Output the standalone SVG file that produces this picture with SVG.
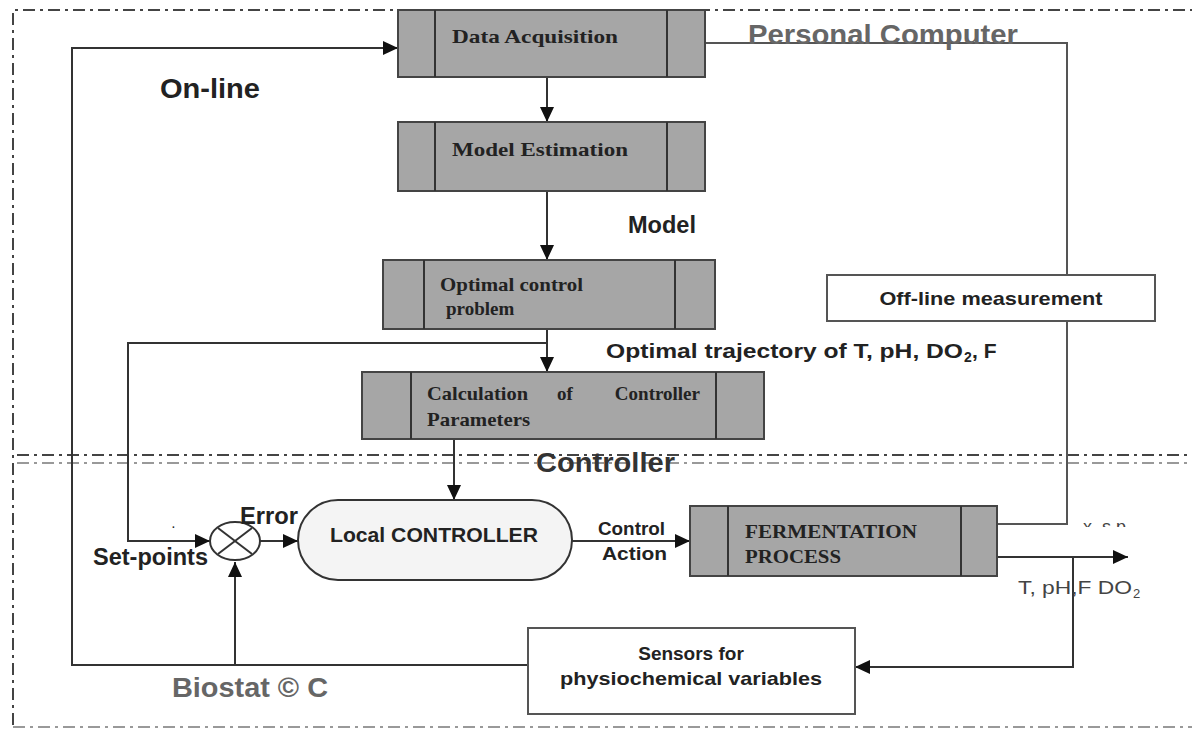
<svg xmlns="http://www.w3.org/2000/svg" width="1192" height="729" viewBox="0 0 1192 729">
<style>
.bd{fill:none;stroke:#444;stroke-width:2;stroke-dasharray:12 5 3 5}
.bd2{fill:none;stroke:#999;stroke-width:2;stroke-dasharray:12 5 3 5}
.c{fill:none;stroke:#333;stroke-width:2}
.g{fill:#a6a6a6;stroke:#444;stroke-width:2}
.w{fill:#fff;stroke:#555;stroke-width:2}
.st{font-family:'Liberation Serif',serif;font-weight:bold;font-size:19px;fill:#222}
.sn{font-family:'Liberation Sans',Arial,sans-serif;font-weight:bold;fill:#222}
.sr{font-family:'Liberation Sans',Arial,sans-serif;fill:#444}
</style>
<defs>
<marker id="ah" markerUnits="userSpaceOnUse" markerWidth="16" markerHeight="16" refX="15" refY="7" orient="auto">
<path d="M0,0 L15,7 L0,14 z" fill="#111"/>
</marker>
<clipPath id="xsp"><rect x="1070" y="505" width="80" height="22"/></clipPath>
</defs>
<rect width="1192" height="729" fill="#fff"/>
<g id="boundaries">
<path class="bd" d="M13,725 V10 H1192"/>
<path class="bd" d="M17,455 H1192"/>
<path class="bd2" d="M17,463 H1192"/>
<path class="bd2" d="M13,727 H1192"/>
</g>
<g id="connectors">
<path class="c" d="M528,665 H72 V48 H398" marker-end="url(#ah)"/>
<path class="c" d="M547,77 V122" marker-end="url(#ah)"/>
<path class="c" d="M547,191 V260" marker-end="url(#ah)"/>
<path class="c" d="M547,329 V372" marker-end="url(#ah)"/>
<path class="c" d="M547,343 H128 V541 H210" marker-end="url(#ah)"/>
<path class="c" d="M260,541 H298" marker-end="url(#ah)"/>
<path class="c" d="M454,439 V500" marker-end="url(#ah)"/>
<path class="c" d="M572,541 H690" marker-end="url(#ah)"/>
<path class="c" style="stroke:#555" d="M997,524 H1067 V43 H705"/>
<path class="c" d="M997,557 H1128" marker-end="url(#ah)"/>
<path class="c" d="M1073,557 V667 H855" marker-end="url(#ah)"/>
<path class="c" d="M235,665 V562" marker-end="url(#ah)"/>
</g>
<g id="data-acquisition">
<rect class="g" x="398" y="10" width="307" height="67"/>
<line class="c" x1="435" y1="10" x2="435" y2="77"/>
<line class="c" x1="667" y1="10" x2="667" y2="77"/>
<text class="st" x="452" y="43" font-size="22" textLength="166" lengthAdjust="spacingAndGlyphs">Data Acquisition</text>
</g>
<g id="model-estimation">
<rect class="g" x="398" y="122" width="307" height="69"/>
<line class="c" x1="435" y1="122" x2="435" y2="191"/>
<line class="c" x1="667" y1="122" x2="667" y2="191"/>
<text class="st" x="452" y="156" font-size="22" textLength="176" lengthAdjust="spacingAndGlyphs">Model Estimation</text>
</g>
<g id="optimal-control">
<rect class="g" x="383" y="260" width="332" height="69"/>
<line class="c" x1="424" y1="260" x2="424" y2="329"/>
<line class="c" x1="675" y1="260" x2="675" y2="329"/>
<text class="st" x="440" y="291" font-size="19" textLength="143" lengthAdjust="spacingAndGlyphs">Optimal control</text>
<text class="st" x="446" y="315" font-size="19">problem</text>
</g>
<g id="calc-params">
<rect class="g" x="362" y="372" width="402" height="67"/>
<line class="c" x1="411" y1="372" x2="411" y2="439"/>
<line class="c" x1="716" y1="372" x2="716" y2="439"/>
<text class="st" x="427" y="400" font-size="20" textLength="101" lengthAdjust="spacingAndGlyphs">Calculation</text>
<text class="st" x="557" y="400" font-size="20">of</text>
<text class="st" x="700" y="400" font-size="20" text-anchor="end">Controller</text>
<text class="st" x="427" y="426" font-size="20" textLength="103" lengthAdjust="spacingAndGlyphs">Parameters</text>
</g>
<g id="local-controller">
<rect x="298" y="500" width="274" height="80" rx="40" ry="40" fill="#f4f4f4" stroke="#333" stroke-width="2"/>
<text class="sn" x="434" y="542" font-size="20" text-anchor="middle" textLength="208" lengthAdjust="spacingAndGlyphs">Local CONTROLLER</text>
</g>
<g id="summing-junction">
<ellipse cx="235" cy="541" rx="25" ry="19" fill="#fff" stroke="#333" stroke-width="2"/>
<line class="c" x1="218" y1="528" x2="252" y2="554"/>
<line class="c" x1="218" y1="554" x2="252" y2="528"/>
</g>
<g id="fermentation">
<rect class="g" x="690" y="506" width="307" height="70"/>
<line class="c" x1="728" y1="506" x2="728" y2="576"/>
<line class="c" x1="961" y1="506" x2="961" y2="576"/>
<text class="st" x="745" y="538" font-size="19" textLength="172" lengthAdjust="spacingAndGlyphs">FERMENTATION</text>
<text class="st" x="745" y="563" font-size="19" textLength="96" lengthAdjust="spacingAndGlyphs">PROCESS</text>
</g>
<g id="offline">
<rect class="w" x="827" y="275" width="328" height="46"/>
<text class="sn" x="991" y="305" font-size="19" text-anchor="middle" fill="#333" textLength="223" lengthAdjust="spacingAndGlyphs">Off-line measurement</text>
</g>
<g id="sensors">
<rect class="w" x="528" y="628" width="327" height="86"/>
<text class="sn" x="691" y="660" font-size="19" text-anchor="middle" fill="#333">Sensors for</text>
<text class="sn" x="691" y="685" font-size="19" text-anchor="middle" fill="#333" textLength="262" lengthAdjust="spacingAndGlyphs">physiochemical variables</text>
</g>
<g id="labels">
<text class="sn" x="160" y="98" font-size="28" textLength="100" lengthAdjust="spacingAndGlyphs">On-line</text>
<text class="sn" x="748" y="44" font-size="28" style="fill:#666" textLength="270" lengthAdjust="spacingAndGlyphs">Personal Computer</text>
<text class="sn" x="628" y="233" font-size="23" textLength="68" lengthAdjust="spacingAndGlyphs">Model</text>
<text class="sn" x="606" y="358" font-size="21" textLength="357" lengthAdjust="spacingAndGlyphs">Optimal trajectory of T, pH, DO</text>
<text class="sn" x="964" y="362" font-size="14">2</text>
<text class="sn" x="972" y="358" font-size="21">, F</text>
<text class="sn" x="536" y="472" font-size="28" style="fill:#333" textLength="139" lengthAdjust="spacingAndGlyphs">Controller</text>
<text class="sn" x="240" y="524" font-size="23" textLength="58" lengthAdjust="spacingAndGlyphs">Error</text>
<text class="sn" x="93" y="565" font-size="23" textLength="115" lengthAdjust="spacingAndGlyphs">Set-points</text>
<text class="sn" x="172" y="528" font-size="10">.</text>
<text class="sn" x="598" y="535" font-size="19" textLength="67" lengthAdjust="spacingAndGlyphs">Control</text>
<text class="sn" x="602" y="560" font-size="19" textLength="65" lengthAdjust="spacingAndGlyphs">Action</text>
<text class="sr" x="1083" y="533" font-size="18" fill="#555" clip-path="url(#xsp)">x, s,p</text>
<text class="sr" x="1018" y="594" font-size="19" textLength="114" lengthAdjust="spacingAndGlyphs">T, pH,F DO</text>
<text class="sr" x="1133" y="598" font-size="13">2</text>
<text class="sn" x="172" y="697" font-size="28" style="fill:#666" textLength="156" lengthAdjust="spacingAndGlyphs">Biostat © C</text>
</g>
</svg>
